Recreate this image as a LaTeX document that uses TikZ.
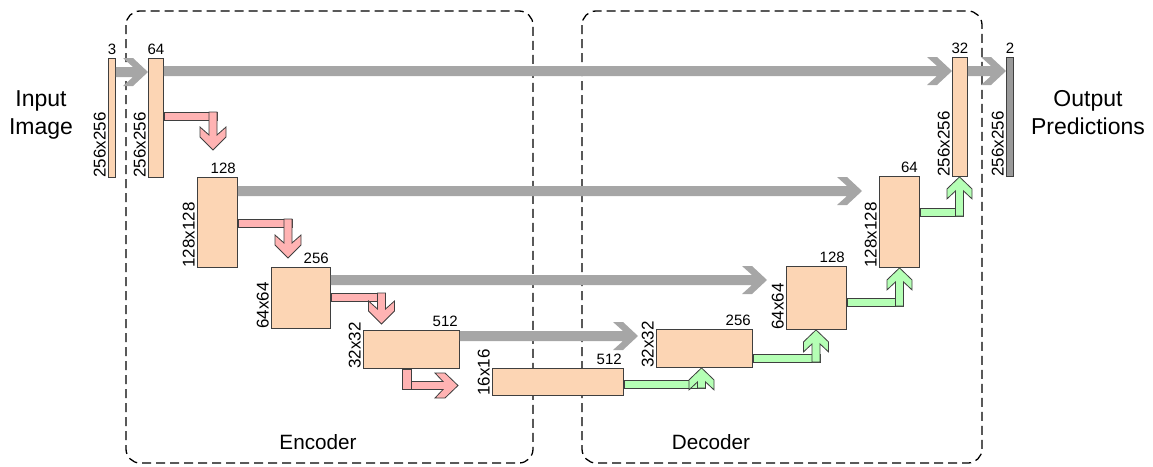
\documentclass[tikz,border=0pt]{standalone}
\usepackage{fontspec}
\setmainfont{Liberation Sans}
\usetikzlibrary{calc}
\definecolor{peach}{HTML}{FCD5B4}
\definecolor{skipgray}{HTML}{A6A6A6}
\definecolor{downpink}{HTML}{FFB3B3}
\definecolor{upgreen}{HTML}{B5FFB5}
\definecolor{edgecol}{HTML}{3F3F3F}
\definecolor{outgray}{HTML}{999999}

\tikzset{
 block/.style={draw=edgecol, fill=peach, line width=0.9pt, inner sep=0pt, anchor=north west},
 outblock/.style={block, fill=outgray},
 chan/.style={font=\fontsize{15}{18}\selectfont, anchor=south east, inner xsep=2pt, inner ysep=3pt},
 chanc/.style={chan, anchor=south, inner xsep=0pt},
 res/.style={font=\fontsize{17}{20}\selectfont, rotate=90, anchor=south west, inner xsep=0pt, inner ysep=2pt},
 skipar/.style={fill=skipgray},
 downar/.style={fill=downpink, draw=edgecol, line width=0.8pt},
 upar/.style={fill=upgreen, draw=edgecol, line width=0.8pt},
 region/.style={draw=black, dash pattern=on 9pt off 5pt, line width=1.3pt, rounded corners=14pt},
 sidetitle/.style={font=\fontsize{23}{28}\selectfont, align=center},
 parttitle/.style={font=\fontsize{20.7}{24}\selectfont}
}

% #1 style, #2 tail, #3 tip, #4 angle, #5 shaft half width, #6 head half width,
% #7 head length, #8 flat side length, #9 notch depth
\newcommand\ArrowShape[9]{%
  \path let \p1=($(#3)-(#2)$), \n1={veclen(\x1,\y1)} in \pgfextra{\xdef\ArrLen{\n1}};%
  \begin{scope}[shift={(#3)},rotate=#4]
    \path[#1] (-\ArrLen,#5pt) -- ({-#7pt+#9pt},#5pt) -- (-#7pt,#6pt) -- ({-#7pt+#8pt},#6pt)
      -- (0pt,0pt) -- ({-#7pt+#8pt},-#6pt) -- (-#7pt,-#6pt) -- ({-#7pt+#9pt},-#5pt)
      -- (-\ArrLen,-#5pt) -- cycle;
  \end{scope}}
\newcommand\SkipArrow[2]{\ArrowShape{skipar}{#1}{#2}{0}{5}{14}{25}{10}{10}}
\newcommand\DownArrow[2]{\ArrowShape{downar}{#1}{#2}{-90}{4}{13}{23}{10}{8}}
\newcommand\RightArrow[2]{\ArrowShape{downar}{#1}{#2}{0}{4}{12.5}{23}{10}{8}}
\newcommand\UpArrow[2]{\ArrowShape{upar}{#1}{#2}{90}{4}{12.5}{22}{10}{8}}

\begin{document}
\begin{tikzpicture}[x=1pt,y=-1pt]
\useasboundingbox (0,0) rectangle (1153,466);

% regions
\draw[region] (126,11) rectangle (533,463);
\draw[region] (582,11) rectangle (982,463);
\node[parttitle] (enc) at (318,442) {Encoder};
\node[parttitle] (dec) at (711,442) {Decoder};

% blocks
\node[block, minimum width=7pt,  minimum height=119pt] (b0) at (108,58) {};
\node[block, minimum width=15pt, minimum height=119pt] (b1) at (148,58) {};
\node[block, minimum width=40pt, minimum height=90pt]  (b2) at (197,177) {};
\node[block, minimum width=59pt, minimum height=61pt]  (b3) at (271,267) {};
\node[block, minimum width=96pt, minimum height=38pt]  (b4) at (363,330) {};
\node[block, minimum width=131pt, minimum height=27pt] (b5) at (492,368) {};
\node[block, minimum width=96pt, minimum height=38pt]  (b6) at (656,329) {};
\node[block, minimum width=60pt, minimum height=63pt]  (b7) at (786,266) {};
\node[block, minimum width=40pt, minimum height=91pt]  (b8) at (879,176) {};
\node[block, minimum width=15pt, minimum height=119pt] (b9) at (952,57) {};
\node[outblock, minimum width=7pt, minimum height=119pt] (bo) at (1006,57) {};

% channel labels
\node[chanc] (c0) at (b0.north) {3};
\node[chanc] (c1) at (b1.north) {64};
\node[chan] (c2) at (b2.north east) {128};
\node[chan] (c3) at (b3.north east) {256};
\node[chan] (c4) at (b4.north east) {512};
\node[chan] (c5) at (b5.north east) {512};
\node[chan] (c6) at (b6.north east) {256};
\node[chan] (c7) at (b7.north east) {128};
\node[chan] (c8) at (b8.north east) {64};
\node[chanc] (c9) at (b9.north) {32};
\node[chanc] (co) at (bo.north) {2};

% resolution labels
\node[res] (r0) at (b0.south west) {256x256};
\node[res] (r1) at (b1.south west) {256x256};
\node[res] (r2) at (b2.south west) {128x128};
\node[res] (r3) at (b3.south west) {64x64};
\node[res] (r4) at (b4.south west) {32x32};
\node[res] (r5) at (b5.south west) {16x16};
\node[res] (r6) at (b6.south west) {32x32};
\node[res] (r7) at (b7.south west) {64x64};
\node[res] (r8) at (b8.south west) {128x128};
\node[res] (r9) at (b9.south west) {256x256};
\node[res] (ro) at (bo.south west) {256x256};

\node[sidetitle] (inp) at (41,115) {Input\\Image};
\node[sidetitle] (outp) at (1088,113) {Output\\Predictions};

% skip connections (gray)
\coordinate (k0) at ($(b0.north east)+(0,14)$);
\coordinate (k0t) at (b1.west |- k0);
\coordinate (k1) at ($(b1.north east)+(0,13)$);
\coordinate (k1t) at (b9.west |- k1);
\coordinate (k2) at ($(b2.north east)+(0,14)$);
\coordinate (k2t) at ($(b8.west |- k2)+(-17,0)$);
\coordinate (k3) at ($(b3.north east)+(0,13)$);
\coordinate (k3t) at ($(b7.west |- k3)+(-19,0)$);
\coordinate (k4) at ($(b4.north east)+(0,6)$);
\coordinate (k4t) at ($(b6.west |- k4)+(-18,0)$);
\coordinate (k5) at ($(b9.north east)+(0,14)$);
\coordinate (k5t) at (bo.west |- k5);
\SkipArrow{k0}{k0t}
\SkipArrow{k1}{k1t}
\SkipArrow{k2}{k2t}
\SkipArrow{k3}{k3t}
\SkipArrow{k4}{k4t}
\SkipArrow{k5}{k5t}

% down-sampling (pink)
\coordinate (p1a) at (213,112);   \coordinate (p1b) at (213,150);
\coordinate (p2a) at (288,219);   \coordinate (p2b) at (288,258);
\coordinate (p3a) at (381.5,293); \coordinate (p3b) at (381.5,324);
\draw[downar] (b1.east |- p1a) rectangle ($(p1a)+(4,8)$);
\DownArrow{p1a}{p1b}
\draw[downar] (b2.east |- p2a) rectangle ($(p2a)+(4,8)$);
\DownArrow{p2a}{p2b}
\draw[downar] (b3.east |- p3a) rectangle ($(p3a)+(4,8)$);
\DownArrow{p3a}{p3b}
\coordinate (p4a) at (411,385.5); \coordinate (p4b) at (458,385.5);
\RightArrow{p4a}{p4b}
\draw[downar] (b4.south -| 402,0) rectangle (411,389.5);

% up-sampling (green)
\coordinate (g1a) at (701.5,388); \coordinate (g1b) at (g1a |- b6.south);
\coordinate (g2a) at (816,362);   \coordinate (g2b) at (g2a |- b7.south);
\coordinate (g3a) at (899.5,306); \coordinate (g3b) at (g3a |- b8.south);
\coordinate (g4a) at (959.5,216); \coordinate (g4b) at (g4a |- b9.south);
\draw[upar] (b5.east |- g1a) rectangle ($(g1a)+(4,-8)$);
\UpArrow{g1a}{g1b}
\draw[upar] (b6.east |- g2a) rectangle ($(g2a)+(4,-8)$);
\UpArrow{g2a}{g2b}
\draw[upar] (b7.east |- g3a) rectangle ($(g3a)+(4,-8)$);
\UpArrow{g3a}{g3b}
\draw[upar] (b8.east |- g4a) rectangle ($(g4a)+(4,-8)$);
\UpArrow{g4a}{g4b}
\end{tikzpicture}
\end{document}
